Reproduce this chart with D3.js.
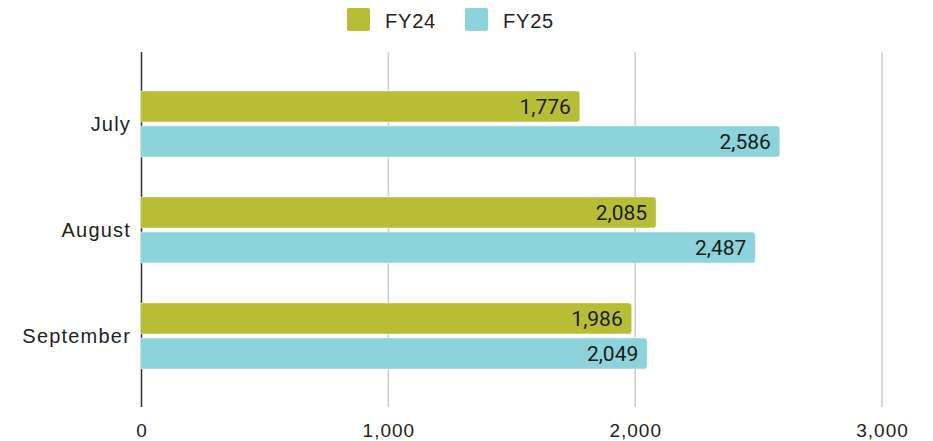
<!DOCTYPE html>
<html>
<head>
<meta charset="utf-8">
<script src="https://cdn.jsdelivr.net/npm/d3@7"></script>
<style>
  html, body { margin: 0; padding: 0; background: #fff; }
  svg { display: block; }
</style>
</head>
<body>
<svg id="chart" width="933" height="441"></svg>
<script>
const months = ["July", "August", "September"];
const seriesNames = ["FY24", "FY25"];
const fy24 = [1776, 2085, 1986];
const fy25 = [2586, 2487, 2049];
const xTicks = [0, 1000, 2000, 3000];
const colors = ["#b8be34", "#8cd3db"];

const svg = d3.select("#chart");
const fmt = d3.format(",");

const x = d3.scaleLinear().domain([0, 3000]).range([141.5, 882]);
const y = d3.scaleBand().domain(months).range([71, 389]).padding(0);
const inner = d3.scaleBand().domain(seriesNames).range([-33, 33]).paddingInner(0.115).paddingOuter(0);

const plotTop = 52, plotBottom = 407;

// gridlines
svg.append("g").selectAll("line").data(xTicks.filter(d => d > 0)).join("line")
  .attr("x1", d => x(d)).attr("x2", d => x(d))
  .attr("y1", plotTop).attr("y2", plotBottom)
  .attr("stroke", "#cccccc").attr("stroke-width", 1.5);

// axis line (left)
svg.append("line")
  .attr("x1", x(0)).attr("x2", x(0))
  .attr("y1", plotTop).attr("y2", plotBottom)
  .attr("stroke", "#333").attr("stroke-width", 1.5);

// x tick labels via axis
const xAxis = d3.axisBottom(x).tickValues(xTicks).tickFormat(fmt).tickSize(0).tickPadding(0);
const gx = svg.append("g").attr("transform", "translate(0,437)").call(xAxis);
gx.select(".domain").remove();
gx.selectAll("text")
  .attr("dy", 0).attr("y", 0)
  .style("font-family", "'Liberation Sans', Arial, sans-serif")
  .style("font-size", "19px").style("letter-spacing", "1px")
  .attr("fill", "#222");

// y category labels via axis
const yAxis = d3.axisLeft(y).tickSize(0).tickPadding(0);
const gy = svg.append("g").attr("transform", "translate(131,0)").call(yAxis);
gy.select(".domain").remove();
gy.selectAll("text")
  .attr("x", 0).attr("dy", "0.35em")
  .style("font-family", "'Liberation Sans', Arial, sans-serif")
  .style("font-size", "20px").style("letter-spacing", "1.2px")
  .attr("fill", "#222");

// bars
function barPath(x0, x1, y0, h, r) {
  return `M${x0},${y0}H${x1 - r}Q${x1},${y0} ${x1},${y0 + r}V${y0 + h - r}Q${x1},${y0 + h} ${x1 - r},${y0 + h}H${x0}Z`;
}
const rows = [];
months.forEach((m, i) => {
  rows.push({ month: m, series: "FY24", value: fy24[i], color: colors[0] });
  rows.push({ month: m, series: "FY25", value: fy25[i], color: colors[1] });
});

const bars = svg.append("g");
bars.selectAll("path").data(rows).join("path")
  .attr("d", d => {
    const yc = y(d.month) + y.bandwidth() / 2 + inner(d.series);
    return barPath(x(0) - 1, x(d.value), yc, inner.bandwidth(), 3);
  })
  .attr("fill", d => d.color)
  .attr("stroke", "rgba(255,255,255,0.45)").attr("stroke-width", 1);

bars.selectAll("text").data(rows).join("text")
  .attr("x", d => x(d.value) - 9)
  .attr("y", d => y(d.month) + y.bandwidth() / 2 + inner(d.series) + inner.bandwidth() / 2)
  .attr("dy", "0.36em")
  .attr("text-anchor", "end")
  .style("font-family", "Roboto, sans-serif")
  .style("font-size", "21px")
  .attr("fill", "#1a1a1a")
  .text(d => fmt(d.value));

// legend
const legendX = [347, 465];
const lg = svg.append("g").selectAll("g").data(seriesNames).join("g")
  .attr("transform", (d, i) => `translate(${legendX[i]},8)`);
lg.append("rect").attr("width", 23).attr("height", 23).attr("rx", 2)
  .attr("fill", (d, i) => colors[i]);
lg.append("text").attr("x", 38).attr("y", 19.5)
  .style("font-family", "'Liberation Sans', Arial, sans-serif")
  .style("font-size", "20px").style("letter-spacing", "0.8px")
  .attr("fill", "#222")
  .text(d => d);
</script>
</body>
</html>
